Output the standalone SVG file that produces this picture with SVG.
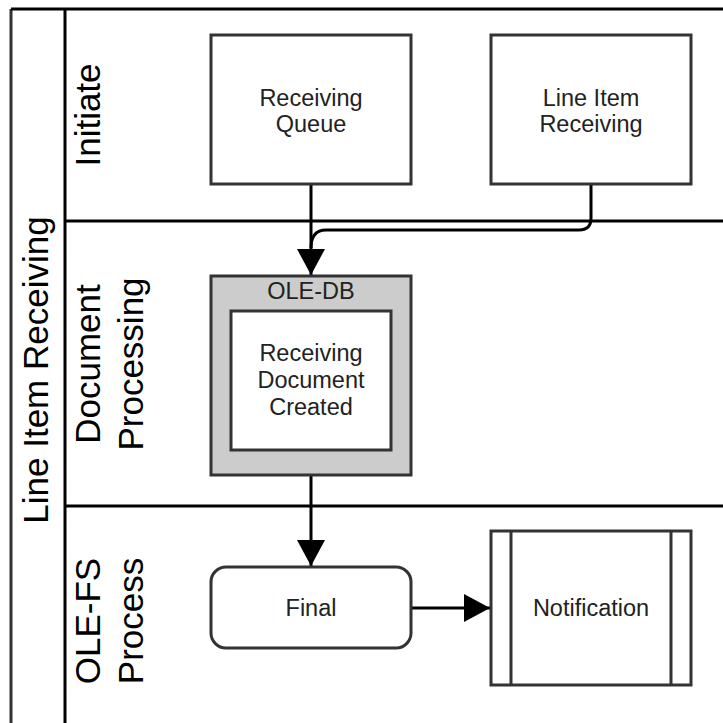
<svg xmlns="http://www.w3.org/2000/svg" width="723" height="723" viewBox="0 0 723 723">
  <style>
    .lane { stroke: #000; stroke-width: 3; fill: none; }
    .box { fill: #fff; stroke: #333; stroke-width: 3; }
    .t { font-family: "Liberation Sans", Arial, sans-serif; font-size: 23.5px; fill: #222; text-anchor: middle; }
    .lt { font-family: "Liberation Sans", Arial, sans-serif; font-size: 35px; fill: #000; text-anchor: middle; }
    .conn { stroke: #000; stroke-width: 3; fill: none; }
  </style>
  <defs>
    <marker id="arr" viewBox="0 0 26 28" refX="26" refY="14" markerWidth="26" markerHeight="28" markerUnits="userSpaceOnUse" orient="auto">
      <path d="M0 0 L26 14 L0 28 Z" fill="#000"/>
    </marker>
  </defs>
  <rect width="723" height="723" fill="#fff"/>
  <g id="pool">
    <line x1="11" y1="9" x2="11" y2="723" stroke="#333" stroke-width="3"/>
    <line class="lane" x1="11" y1="9" x2="723" y2="9"/>
    <line class="lane" x1="65" y1="9" x2="65" y2="723"/>
    <line class="lane" x1="65" y1="221" x2="723" y2="221"/>
    <line class="lane" x1="65" y1="506" x2="723" y2="506"/>
    <text class="lt" transform="translate(48,370) rotate(-90)">Line Item Receiving</text>
  </g>
  <g id="lane-initiate">
    <text class="lt" transform="translate(100,115) rotate(-90)">Initiate</text>
  </g>
  <g id="lane-docproc">
    <text class="lt" transform="translate(100,364) rotate(-90)">Document</text>
    <text class="lt" transform="translate(143,364) rotate(-90)">Processing</text>
  </g>
  <g id="lane-olefs">
    <text class="lt" transform="translate(100,621) rotate(-90)">OLE-FS</text>
    <text class="lt" transform="translate(143,621) rotate(-90)">Process</text>
  </g>
  <g id="connectors">
    <path class="conn" d="M311 185 V275" marker-end="url(#arr)"/>
    <path class="conn" d="M591 185 V218 Q591 230 579 230 H326 Q311 230 311 248"/>
    <path class="conn" d="M311 476 V566" marker-end="url(#arr)"/>
    <path class="conn" d="M411 608 H490" marker-end="url(#arr)"/>
  </g>
  <g id="receiving-queue">
    <rect class="box" x="211" y="35" width="200" height="149"/>
    <text class="t" x="311" y="106">Receiving</text>
    <text class="t" x="311" y="132">Queue</text>
  </g>
  <g id="line-item-receiving">
    <rect class="box" x="491" y="35" width="200" height="149"/>
    <text class="t" x="591" y="106">Line Item</text>
    <text class="t" x="591" y="132">Receiving</text>
  </g>
  <g id="ole-db">
    <rect x="211" y="276" width="200" height="199" fill="#ccc" stroke="#333" stroke-width="3"/>
    <text class="t" x="311" y="299">OLE-DB</text>
  </g>
  <g id="receiving-document-created">
    <rect class="box" x="231" y="311" width="160" height="139"/>
    <text class="t" x="311" y="361">Receiving</text>
    <text class="t" x="311" y="388">Document</text>
    <text class="t" x="311" y="415">Created</text>
  </g>
  <g id="final">
    <rect class="box" x="211" y="567" width="200" height="81" rx="15" ry="15"/>
    <text class="t" x="311" y="616">Final</text>
  </g>
  <g id="notification">
    <rect class="box" x="491" y="531" width="200" height="154"/>
    <line x1="511" y1="531" x2="511" y2="685" stroke="#333" stroke-width="3"/>
    <line x1="671" y1="531" x2="671" y2="685" stroke="#333" stroke-width="3"/>
    <text class="t" x="591" y="616">Notification</text>
  </g>
</svg>
